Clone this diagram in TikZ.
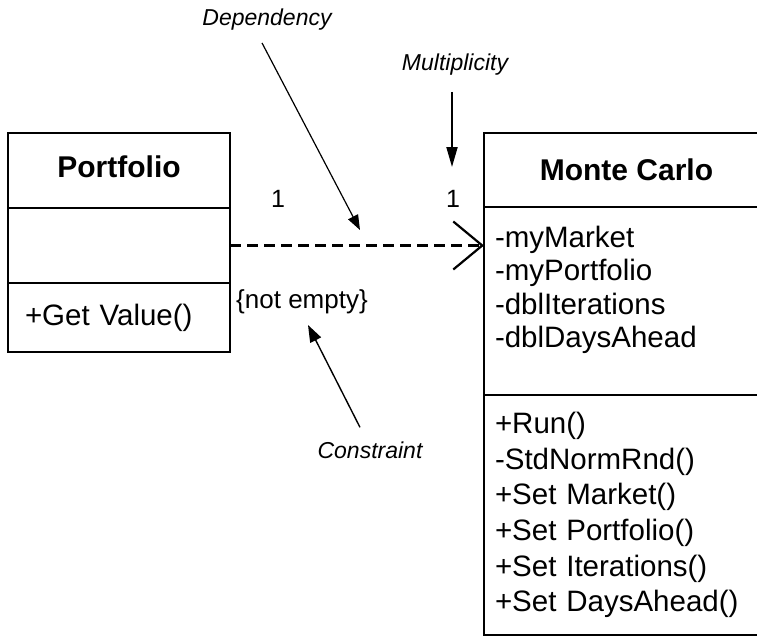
\documentclass[tikz,border=0pt]{standalone}
\usepackage{fontspec}
\setmainfont{Liberation Sans}
\usetikzlibrary{arrows.meta,positioning}

\begin{document}
\begin{tikzpicture}[
  x=1pt, y=-1pt,
  node distance=0pt,
  box/.style={draw, line width=2pt, outer sep=0pt, inner sep=0pt},
  classname/.style={box, font=\fontsize{30}{36}\selectfont\bfseries},
  members/.style={box, align=left, font=\fontsize{29.5}{35.6}\selectfont},
  callout/.style={inner sep=2pt, font=\fontsize{23}{28}\selectfont\itshape},
  endnum/.style={inner sep=2pt, font=\fontsize{25}{30}\selectfont},
  pointer/.style={-{Triangle[length=15pt,width=11pt]}, line width=1.2pt},
  depline/.style={-{Straight Barb[length=29pt,width=48pt]}, line width=2.2pt,
    dash pattern=on 11pt off 6pt}
]
\useasboundingbox (0,0) rectangle (757,638);
% Portfolio
\node[classname, minimum width=222pt, minimum height=75pt, text depth=8pt,
  anchor=north west] (ptitle) at (8,133) {Portfolio};
\node[box, minimum width=222pt, minimum height=75pt, below=of ptitle] (pattr) {};
\node[members, text width=188pt, inner xsep=17pt, minimum height=69pt,
  below=of pattr] (pops) {+Get Value()};
% Monte Carlo
\node[classname, minimum width=285pt, minimum height=74pt,
  anchor=north west] (mtitle) at (484,133) {Monte Carlo};
\node[members, text width=263pt, inner xsep=11pt, minimum height=188pt,
  text depth=128pt, font=\fontsize{29.5}{33.3}\selectfont,
  below=of mtitle] (mattr) {-myMarket\\-myPortfolio\\-dblIterations\\-dblDaysAhead};
\node[members, text width=263pt, inner xsep=11pt, minimum height=240pt,
  below=of mattr] (mops) {+Run()\\-StdNormRnd()\\+Set Market()\\+Set Portfolio()\\+Set Iterations()\\+Set DaysAhead()};
\draw[depline] (pattr.east) -- (pattr.east -| mattr.west);
% multiplicities and constraint
\node[endnum] (pone) at (278,199) {1};
\node[endnum] (mone) at (453,199) {1};
\node[inner sep=2pt, font=\fontsize{26}{30}\selectfont] (notempty) at (302,302) {\{not empty\}};
% notes
\node[callout] (dep) at (267,20) {Dependency};
\node[callout] (mult) at (455,65) {Multiplicity};
\node[callout] (con) at (370,450) {Constraint};
\coordinate (deptip) at (360,230);
\coordinate (multtip) at (452,167);
\coordinate (contip) at (308,325);
\draw[pointer] ([xshift=-5pt,yshift=-10pt]dep.south) -- (deptip);
\draw[pointer, -{Triangle[length=20pt,width=11pt]}, line width=2pt,
  shorten <=14pt] (mult.south -| multtip) -- (multtip);
\draw[pointer, -{Triangle[length=17pt,width=12pt]}, line width=1.4pt]
  ([xshift=-10pt,yshift=12pt]con.north) -- (contip);
\end{tikzpicture}
\end{document}
